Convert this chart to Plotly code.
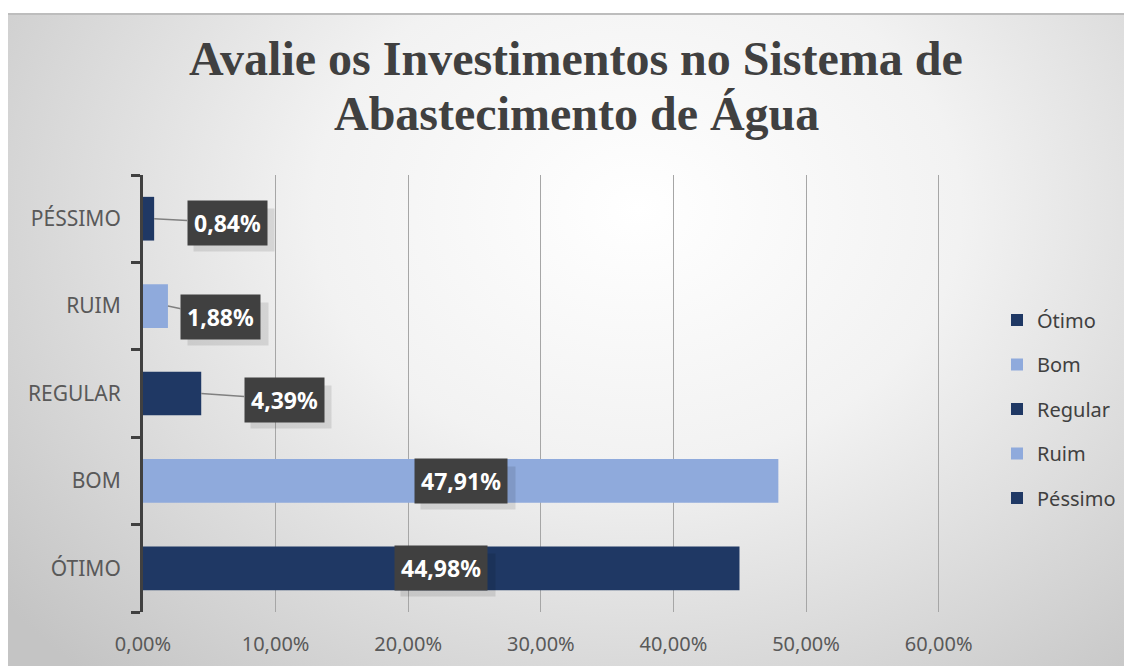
import plotly.graph_objects as go
import urllib.parse

categories = ["ÓTIMO", "BOM", "REGULAR", "RUIM", "PÉSSIMO"]
series_names = ["Ótimo", "Bom", "Regular", "Ruim", "Péssimo"]
values = [44.98, 47.91, 4.39, 1.88, 0.84]
colors = ["#1F3864", "#8FAADC", "#1F3864", "#8FAADC", "#1F3864"]
label_texts = ["44,98%", "47,91%", "4,39%", "1,88%", "0,84%"]
tick_vals = [0, 10, 20, 30, 40, 50, 60]
tick_text = ["0,00%", "10,00%", "20,00%", "30,00%", "40,00%", "50,00%", "60,00%"]

OFF = 8  # page body margin
W, H = 1132 - OFF, 666 - OFF
L, R, T, B = 143 - OFF, 940 - OFF, 175 - OFF, 612 - OFF
pw, ph = R - L, B - T


def px_x(px):  # screen pixel -> paper
    return (px - OFF - L) / pw


def px_y(py):
    return (B - (py - OFF)) / ph


fig = go.Figure()
for name, cat, v, c in zip(series_names, categories, values, colors):
    fig.add_trace(go.Bar(
        y=[cat], x=[v], name=name, orientation="h", width=0.5,
        marker=dict(color=c, line=dict(width=0)),
        legendgroup=name, hoverinfo="skip",
    ))

# background gradient (svg data uri)
svg = (
    '<svg xmlns="http://www.w3.org/2000/svg" width="1124" height="653" viewBox="0 0 1124 653" preserveAspectRatio="none">'
    '<defs><radialGradient id="g" cx="0.56" cy="0.3" r="0.72" gradientTransform="translate(0.56,0.3) scale(1,1.35) translate(-0.56,-0.3)">'
    '<stop offset="0" stop-color="#ffffff"/><stop offset="0.4" stop-color="#f2f2f2"/><stop offset="1" stop-color="#c4c4c4"/>'
    '</radialGradient></defs><rect width="1124" height="653" fill="url(#g)"/>'
    '<line x1="0" y1="1" x2="1124" y2="1" stroke="#bdbdbd" stroke-width="2"/></svg>'
)
src = "data:image/svg+xml;charset=utf-8," + urllib.parse.quote(svg)
fig.add_layout_image(dict(
    source=src, xref="paper", yref="paper",
    x=px_x(8), y=px_y(13), sizex=(1132 - 8) / pw, sizey=(666 - 13) / ph,
    xanchor="left", yanchor="top", sizing="stretch", layer="below",
))

annotations = []
title_font = dict(family="Liberation Serif", size=48, color="#404040")
annotations.append(dict(text="<b>Avalie os Investimentos no Sistema de</b>", xref="paper", yref="paper",
                        x=px_x(576), y=px_y(58), showarrow=False, xanchor="center", yanchor="middle",
                        font=title_font))
annotations.append(dict(text="<b>Abastecimento de Água</b>", xref="paper", yref="paper",
                        x=px_x(576), y=px_y(114), showarrow=False, xanchor="center", yanchor="middle",
                        font=title_font))

# data labels
FS = 23
label_font = dict(family="Noto Sans", size=FS, color="white")
shadow_font = dict(family="Noto Sans", size=FS, color="rgba(0,0,0,0)")
offsets = {"PÉSSIMO": (73, 4), "RUIM": (53, 11), "REGULAR": (83, 6)}
for cat, v, t in zip(categories, values, label_texts):
    txt = "<b>" + t + "</b>"
    sw, sh = round(13.6 * len(t)), 30
    if cat in offsets:
        ax, ay = offsets[cat]
        annotations.append(dict(x=v, y=cat, xref="x", yref="y", text=" ", width=sw, height=sh,
                                showarrow=True, arrowcolor="rgba(0,0,0,0)", ax=ax + 7, ay=ay + 7,
                                bgcolor="rgba(0,0,0,0.10)", font=shadow_font, borderpad=6))
        annotations.append(dict(x=v, y=cat, xref="x", yref="y", text=txt,
                                showarrow=True, arrowhead=0, arrowwidth=1.5, arrowcolor="#808080",
                                ax=ax, ay=ay, standoff=0,
                                bgcolor="#404040", font=label_font, borderpad=6))
    else:
        annotations.append(dict(x=v / 2, y=cat, xref="x", yref="y", text=" ", width=sw, height=sh,
                                showarrow=False, xshift=7, yshift=-7,
                                bgcolor="rgba(0,0,0,0.10)", font=shadow_font, borderpad=6))
        annotations.append(dict(x=v / 2, y=cat, xref="x", yref="y", text=txt,
                                showarrow=False,
                                bgcolor="#404040", font=label_font, borderpad=6))

fig.update_layout(
    width=W, height=H,
    margin=dict(l=L, r=W - R, t=T, b=H - B, pad=0, autoexpand=False),
    paper_bgcolor="white", plot_bgcolor="rgba(0,0,0,0)",
    barmode="overlay",
    showlegend=True,
    legend=dict(x=px_x(997), y=px_y(409), xanchor="left", yanchor="middle",
                traceorder="grouped", tracegroupgap=15.5,
                font=dict(family="Noto Sans", size=20, color="#404040"),
                bgcolor="rgba(0,0,0,0)", itemwidth=30),
    annotations=annotations,
    xaxis=dict(range=[0, 60.1], tickvals=tick_vals, ticktext=tick_text,
               showgrid=True, gridcolor="#a6a6a6", gridwidth=1.3, zeroline=False,
               showline=False, ticks="", ticklabelstandoff=18,
               tickfont=dict(family="Noto Sans", size=20, color="#595959"), fixedrange=True),
    yaxis=dict(type="category", categoryorder="array", categoryarray=categories,
               range=[-0.5, 4.5], showline=True, linecolor="#404040", linewidth=3,
               ticks="outside", tickson="boundaries", ticklen=9, tickwidth=3, tickcolor="#404040",
               showgrid=False, zeroline=False,
               tickfont=dict(family="Noto Sans", size=21, color="#595959"), ticklabelstandoff=15),
)

fig.write_html("out.html")
